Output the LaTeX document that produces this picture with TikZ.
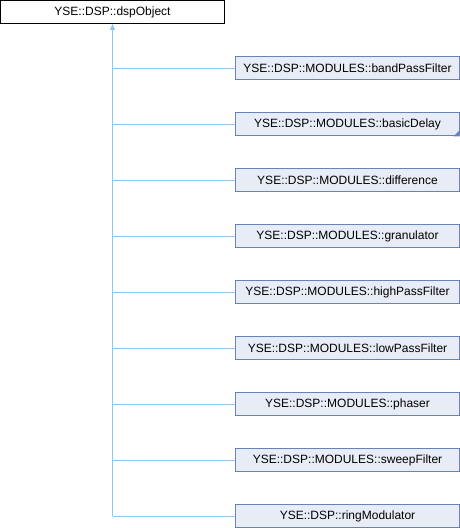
\documentclass[tikz,border=0pt]{standalone}
\usepackage{fontspec}
\setmainfont{Liberation Sans}
\usetikzlibrary{arrows.meta}
\definecolor{edgeblue}{RGB}{140,198,234}
\definecolor{boxfill}{RGB}{232,236,246}
\definecolor{boxline}{RGB}{104,130,190}
\begin{document}
\begin{tikzpicture}[x=1pt,y=-1pt,
  base/.style={draw=black,fill=white,line width=0.8pt,minimum width=224pt,minimum height=23pt,inner sep=0pt,font=\fontsize{12}{14}\selectfont},
  child/.style={draw=boxline,fill=boxfill,line width=0.8pt,minimum width=224pt,minimum height=23pt,inner sep=0pt,font=\fontsize{12}{14}\selectfont},
  inh/.style={draw=edgeblue,line width=0.8pt}]
\useasboundingbox (0,0) rectangle (460,528);
\node[base] (root) at (112.5,12) {YSE::DSP::dspObject};
\node[child] (c1) at (347.5,68) {YSE::DSP::MODULES::bandPassFilter};
\node[child] (c2) at (347.5,124) {YSE::DSP::MODULES::basicDelay};
\node[child] (c3) at (347.5,180) {YSE::DSP::MODULES::difference};
\node[child] (c4) at (347.5,236) {YSE::DSP::MODULES::granulator};
\node[child] (c5) at (347.5,292) {YSE::DSP::MODULES::highPassFilter};
\node[child] (c6) at (347.5,348) {YSE::DSP::MODULES::lowPassFilter};
\node[child] (c7) at (347.5,404) {YSE::DSP::MODULES::phaser};
\node[child] (c8) at (347.5,460) {YSE::DSP::MODULES::sweepFilter};
\node[child] (c9) at (347.5,516) {YSE::DSP::ringModulator};
\fill[boxline] ([xshift=-0.4pt,yshift=-0.4pt]c2.south east) -- ++(0,-6) -- ++(-6,6) -- cycle;
\coordinate (bend) at (root.south |- c9.west);
\draw[inh,-{Triangle[length=6pt,width=5pt,fill=edgeblue]}] (bend) -- (root.south);
\foreach \i in {1,...,9}{
  \draw[inh] (c\i.west) -- (root.south |- c\i.west);
}
\end{tikzpicture}
\end{document}
